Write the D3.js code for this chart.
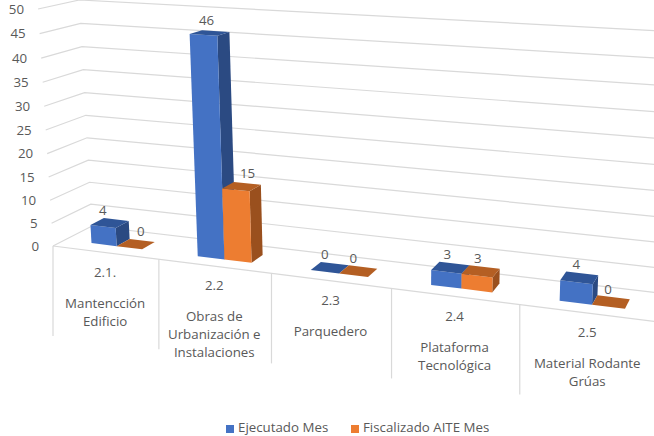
<!DOCTYPE html>
<html>
<head>
<meta charset="utf-8">
<script src="https://cdn.jsdelivr.net/npm/d3@7"></script>
<style>
  html, body { margin: 0; padding: 0; background: #fff; }
  text { font-family: "Open Sans", sans-serif; fill: #595959; }
</style>
</head>
<body>
<script>
const categories = ["2.1", "2.2", "2.3", "2.4", "2.5"]
const categoryLines = [
  ["2.1.", "Mantencción", "Edificio"],
  ["2.2", "Obras de", "Urbanización e", "Instalaciones"],
  ["2.3", "Parquedero"],
  ["2.4", "Plataforma", "Tecnológica"],
  ["2.5", "Material Rodante", "Grúas"]
]
const seriesNames = ["Ejecutado Mes", "Fiscalizado AITE Mes"]
const ejecutado = [4, 46, 0, 3, 4]
const fiscalizado = [0, 15, 0, 3, 0]
const tickValues = [0, 5, 10, 15, 20, 25, 30, 35, 40, 45, 50]

const width = 654
const height = 436
const fontSize = 13.3

// colores por serie: frente, lado, tapa
const faceColors = [
  { front: "#4472C4", side: "#2B4A82", top: "#2F5597" },
  { front: "#ED7D31", side: "#9A501E", top: "#B45F23" }
]

// ajuste manual de las etiquetas, como en el grafico original
const labelNudge = [[-7, 5], [-3, 6], [-5, -5], [-3, -3], [-3, -3]]

const svg = d3.select("body").append("svg")
  .attr("width", width)
  .attr("height", height)
  .style("display", "block")

const u = d3.scaleBand()
  .domain(categories)
  .range([0, 5])
  .paddingInner(0.516)
  .paddingOuter(0.258)

const useries = d3.scaleBand()
  .domain(seriesNames)
  .range([0, u.bandwidth()])

const h = d3.scaleLinear().domain([0, 50]).range([0, 1])

const depthFront = 0.3
const depthBack = 0.65

// proyeccion en perspectiva: ux = categoria, d = profundidad, k = altura 0..1
function project(ux, d, k) {
  const w = 1 - 0.03 * ux + 0.0502 * d - 0.0415 * k
  return [
    (53 + 101.1 * ux + 43.6 * d - 16.5 * k) / w,
    (246 + 5.5 * ux - 8.65 * d - 237.35 * k) / w
  ]
}

const line = d3.line()
const poly = pts => line(pts) + "Z"

const grid = svg.append("g")
  .attr("fill", "none")
  .attr("stroke", "#D9D9D9")
  .attr("stroke-width", 1.2)

// pared izquierda y pared de atras
tickValues.forEach(v => {
  grid.append("path").attr("d", line([
    project(0, 0, h(v)),
    project(0, 1, h(v)),
    project(5.2, 1, h(v))
  ]))
})

// borde delantero del piso y separadores de categorias
grid.append("path").attr("d", line([project(0, 0, 0), project(5.2, 0, 0)]))

d3.range(0, 5).forEach(i => {
  const p = project(i, 0, 0)
  grid.append("path").attr("d", line([p, [p[0], p[1] + 90]]))
})

// etiquetas del eje de valores
svg.append("g").selectAll("text")
  .data(tickValues)
  .join("text")
  .attr("x", d => project(0, 0, h(d))[0] - 14)
  .attr("y", d => project(0, 0, h(d))[1])
  .attr("dy", "0.35em")
  .attr("text-anchor", "end")
  .attr("font-size", fontSize)
  .text(d => d)

// barras
const values = [ejecutado, fiscalizado]
const bars = svg.append("g")

categories.forEach((cat, c) => {
  seriesNames.forEach((name, s) => {
    const x0 = u(cat) + useries(name)
    const x1 = x0 + useries.bandwidth()
    const k = h(values[s][c])
    const col = faceColors[s]

    bars.append("path").attr("fill", col.side).attr("d", poly([
      project(x1, depthFront, 0), project(x1, depthBack, 0),
      project(x1, depthBack, k), project(x1, depthFront, k)
    ]))
    bars.append("path").attr("fill", col.front).attr("d", poly([
      project(x0, depthFront, 0), project(x1, depthFront, 0),
      project(x1, depthFront, k), project(x0, depthFront, k)
    ]))
    bars.append("path").attr("fill", col.top).attr("d", poly([
      project(x0, depthFront, k), project(x1, depthFront, k),
      project(x1, depthBack, k), project(x0, depthBack, k)
    ]))
  })
})

// etiquetas de datos
const labels = svg.append("g")
categories.forEach((cat, c) => {
  seriesNames.forEach((name, s) => {
    const mid = u(cat) + useries(name) + useries.bandwidth() / 2
    const p = project(mid, (depthFront + depthBack) / 2, h(values[s][c]))
    labels.append("text")
      .attr("x", p[0] + labelNudge[c][s])
      .attr("y", p[1] - 13)
      .attr("dy", "0.35em")
      .attr("text-anchor", "middle")
      .attr("font-size", fontSize)
      .text(values[s][c])
  })
})

// etiquetas de categorias
const catLabels = svg.append("g")
categoryLines.forEach((lines, c) => {
  const p = project(c + 0.5, 0, 0)
  const t = catLabels.append("text")
    .attr("text-anchor", "middle")
    .attr("font-size", fontSize)
  let y = p[1] + 19.5
  lines.forEach((l, i) => {
    if (i == 1) y += 31
    if (i > 1) y += 18
    t.append("tspan")
      .attr("x", p[0])
      .attr("y", y)
      .attr("dy", "0.35em")
      .text(l)
  })
})

// leyenda
const legendX = [226, 351]
const legend = svg.append("g")
seriesNames.forEach((name, s) => {
  legend.append("rect")
    .attr("x", legendX[s])
    .attr("y", 425)
    .attr("width", 8)
    .attr("height", 8)
    .attr("fill", faceColors[s].front)
  legend.append("text")
    .attr("x", legendX[s] + 12)
    .attr("y", 432)
    .attr("font-size", fontSize)
    .text(name)
})
</script>
</body>
</html>
